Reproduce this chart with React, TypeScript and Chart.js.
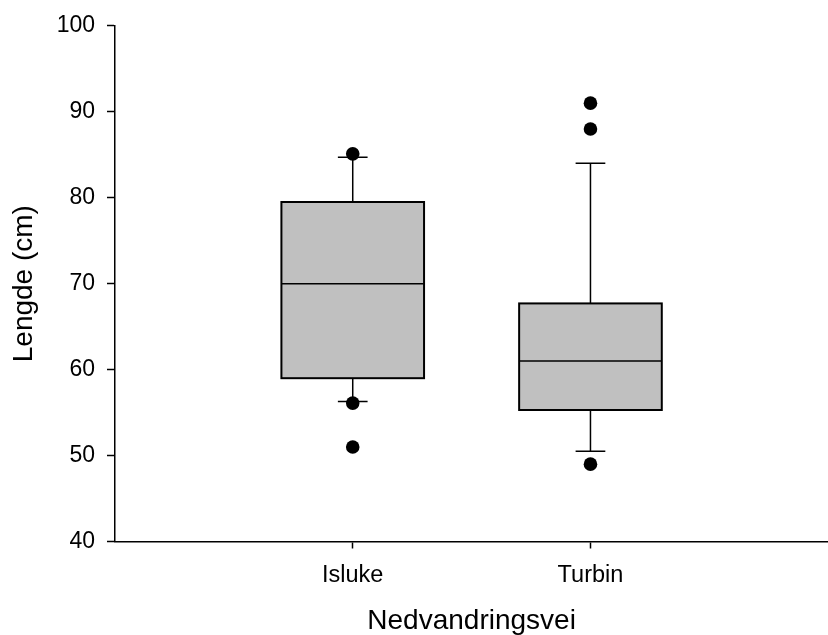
import React, { useEffect, useRef } from "react";
import { Chart, registerables } from "chart.js";

Chart.register(...registerables);

const categories = ["Isluke", "Turbin"];
const categoryPositions = [1, 2];
const q1Values = [59, 55.3];
const medianValues = [70, 61];
const q3Values = [79.5, 67.7];
const whiskerLow = [56.3, 50.5];
const whiskerHigh = [84.7, 84.0];
const outliersIsluke = [85.1, 56.1, 51];
const outliersTurbin = [91, 88, 49];
const yTicks = [40, 50, 60, 70, 80, 90, 100];

const FONT = "'Liberation Sans', Arial, Helvetica, sans-serif";

const boxPlugin = {
  id: "boxPlot",
  beforeDatasetsDraw(chart: any) {
    const { ctx, scales } = chart;
    const xs = scales.x;
    const ys = scales.y;
    ctx.save();
    categories.forEach((_, i) => {
      const pos = categoryPositions[i];
      const xc = xs.getPixelForValue(pos);
      const xl = xs.getPixelForValue(pos - 0.3);
      const xr = xs.getPixelForValue(pos + 0.3);
      const cl = xs.getPixelForValue(pos - 0.0625);
      const cr = xs.getPixelForValue(pos + 0.0625);
      const yq1 = ys.getPixelForValue(q1Values[i]);
      const yq3 = ys.getPixelForValue(q3Values[i]);
      const ym = ys.getPixelForValue(medianValues[i]);
      const ylo = ys.getPixelForValue(whiskerLow[i]);
      const yhi = ys.getPixelForValue(whiskerHigh[i]);
      ctx.strokeStyle = "#000";
      ctx.lineWidth = 1.5;
      ctx.beginPath();
      ctx.moveTo(xc, yq3);
      ctx.lineTo(xc, yhi);
      ctx.moveTo(cl, yhi);
      ctx.lineTo(cr, yhi);
      ctx.moveTo(xc, yq1);
      ctx.lineTo(xc, ylo);
      ctx.moveTo(cl, ylo);
      ctx.lineTo(cr, ylo);
      ctx.stroke();
      ctx.fillStyle = "#c0c0c0";
      ctx.fillRect(xl, yq3, xr - xl, yq1 - yq3);
      ctx.lineWidth = 2;
      ctx.strokeRect(xl, yq3, xr - xl, yq1 - yq3);
      ctx.lineWidth = 1.5;
      ctx.beginPath();
      ctx.moveTo(xl, ym);
      ctx.lineTo(xr, ym);
      ctx.stroke();
    });
    ctx.restore();
  },
};

export default function App() {
  const ref = useRef<HTMLCanvasElement>(null);
  useEffect(() => {
    if (!ref.current) return;
    const outlierPoints = [
      ...outliersIsluke.map((y) => ({ x: categoryPositions[0], y })),
      ...outliersTurbin.map((y) => ({ x: categoryPositions[1], y })),
    ];
    const chart = new Chart(ref.current, {
      type: "scatter",
      data: {
        datasets: [
          {
            label: "Outliers",
            data: outlierPoints,
            pointRadius: 6.8,
            pointBackgroundColor: "#000",
            pointBorderColor: "#000",
            pointBorderWidth: 0,
          },
        ],
      },
      options: {
        animation: false,
        responsive: false,
        maintainAspectRatio: false,
        layout: { padding: { top: 24, left: 0, right: 0, bottom: 0 } },
        plugins: {
          legend: { display: false },
          tooltip: { enabled: false },
        },
        scales: {
          x: {
            type: "linear",
            min: 0,
            max: 3,
            afterBuildTicks: (scale: any) => {
              scale.ticks = categoryPositions.map((v) => ({ value: v }));
            },
            afterFit: (scale: any) => {
              scale.height = 93.5;
            },
            ticks: {
              callback: (v: any) => categories[categoryPositions.indexOf(Number(v))] ?? "",
              color: "#000",
              font: { family: FONT, size: 23.5 },
              padding: 13,
              maxRotation: 0,
              autoSkip: false,
            },
            grid: {
              drawOnChartArea: false,
              drawTicks: true,
              tickLength: 7,
              tickWidth: 1.5,
              color: "#000",
            },
            border: { display: true, color: "#000", width: 1.5 },
            title: {
              display: true,
              text: "Nedvandringsvei",
              color: "#000",
              font: { family: FONT, size: 28, lineHeight: 0.95 },
              padding: 0,
            },
          },
          y: {
            type: "linear",
            min: 40,
            max: 100,
            afterBuildTicks: (scale: any) => {
              scale.ticks = yTicks.map((v) => ({ value: v }));
            },
            afterFit: (scale: any) => {
              scale.width = 115;
            },
            ticks: {
              color: "#000",
              font: { family: FONT, size: 23 },
              padding: 12,
            },
            grid: {
              drawOnChartArea: false,
              drawTicks: true,
              tickLength: 8,
              tickWidth: 1.5,
              color: "#000",
            },
            border: { display: true, color: "#000", width: 1.5 },
            title: {
              display: true,
              text: "Lengde (cm)",
              color: "#000",
              font: { family: FONT, size: 28, lineHeight: 1.2 },
              padding: { top: 7, bottom: 0 },
            },
          },
        },
      },
      plugins: [boxPlugin],
    });
    return () => chart.destroy();
  }, []);
  return (
    <div
      style={{
        position: "absolute",
        left: 0,
        top: 0,
        width: 828,
        height: 635,
        overflow: "hidden",
        background: "#fff",
      }}
    >
      <canvas ref={ref} width={835} height={635} style={{ width: 835, height: 635, display: "block" }} />
    </div>
  );
}
